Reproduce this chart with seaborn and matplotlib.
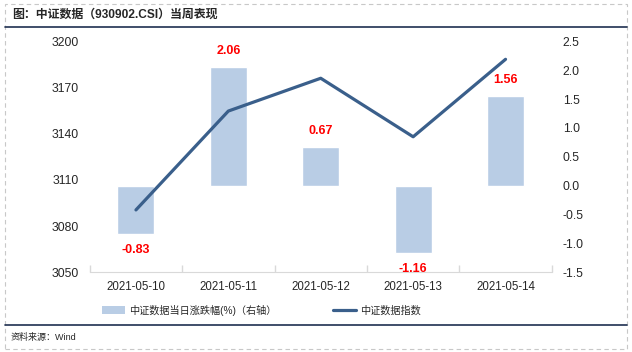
import numpy as np
import pandas as pd
import seaborn as sns
import matplotlib.pyplot as plt
from matplotlib.lines import Line2D
from matplotlib.patches import Rectangle, Patch

# data
dates = ["2021-05-10", "2021-05-11", "2021-05-12", "2021-05-13", "2021-05-14"]
pct_change = [-0.83, 2.06, 0.67, -1.16, 1.56]
index_close = [3090.5, 3154.7, 3176.0, 3138.0, 3188.3]

bar_name = "中证数据当日涨跌幅(%)（右轴）"
line_name = "中证数据指数"
title = "图：中证数据（930902.CSI）当周表现"
source = "资料来源：Wind"

df = pd.DataFrame({"date": dates, "pct": pct_change, "close": index_close})

sns.set_style("white")
plt.rcParams["font.family"] = ["Liberation Sans", "Noto Sans CJK SC"]

bar_color = "#B9CDE5"
line_color = "#3A5F8B"

fig = plt.figure(figsize=(6.32, 3.52), dpi=100)
ax = fig.add_axes([0.142, 0.2264, 0.731, 0.6563])

# bars on the right-hand scale
sns.barplot(data=df, x="date", y="pct", color=bar_color, width=0.4,
            saturation=1, ax=ax)
ax.set_ylim(-1.5, 2.5)
yt = np.arange(-1.5, 2.51, 0.5)
ax.set_yticks(yt)
ax.set_yticklabels([f"{v:.1f}" for v in yt])
ax.set_xlim(-0.5, 4.5)
ax.set_xlabel("")
ax.set_ylabel("")

for i, v in enumerate(pct_change):
    off = 11.5 if v > 0 else -11.5
    ax.annotate(f"{v:.2f}", (i, v), xytext=(0, off), textcoords="offset points",
                ha="center", va="center", color="#FF0000", fontsize=9,
                fontweight="bold")

# line on the left-hand scale
ax2 = ax.twinx()
sns.lineplot(data=df, x="date", y="close", color=line_color, linewidth=2.3,
             sort=False, ax=ax2)
ax2.set_ylim(3050, 3200)
ax2.set_yticks(range(3050, 3201, 30))
ax2.set_xlim(-0.5, 4.5)
ax2.set_ylabel("")
ax2.set_xlabel("")

# swap sides: bars' scale on the right, line's scale on the left
ax.yaxis.tick_right()
ax2.yaxis.tick_left()

for a in (ax, ax2):
    for s in ["top", "left", "right"]:
        a.spines[s].set_visible(False)
    a.tick_params(axis="y", length=0, labelsize=8.8, pad=8)

ax2.spines["bottom"].set_visible(False)
ax.spines["bottom"].set_color("#D9D9D9")
ax.set_xticks(range(len(dates)))
ax.set_xticklabels(dates)
ax.set_xticks(np.arange(-0.5, 4.6, 1), minor=True)
ax.tick_params(axis="x", which="major", length=0, labelsize=8.3, pad=6)
ax.tick_params(axis="x", which="minor", direction="in", length=5,
               color="#D9D9D9", width=1)
ax.xaxis.set_ticks_position("bottom")

# legend
handles = [Patch(facecolor=bar_color, edgecolor="none"),
           Line2D([0], [0], color=line_color, lw=2.3)]
fig.legend(handles, [bar_name, line_name], loc="center left",
           bbox_to_anchor=(102 / 632, 1 - 310 / 352), ncol=2, frameon=False,
           fontsize=7.3, handlelength=2.3, handleheight=0.8, handletextpad=0.4,
           columnspacing=5.5, borderpad=0, borderaxespad=0)

# title, source and frame
fig.text(12 / 632, 1 - 15 / 352, title, fontsize=8.6, fontweight="bold",
         va="center", ha="left")
fig.text(11 / 632, 1 - 337 / 352, source, fontsize=6.5, va="center", ha="left")
fig.add_artist(Line2D([5 / 632, 627 / 632], [1 - 27 / 352] * 2,
                      color="#1F3050", lw=1.2))
fig.add_artist(Line2D([5 / 632, 627 / 632], [1 - 325 / 352] * 2,
                      color="#1F3050", lw=1.2))
fig.add_artist(Rectangle((5 / 632, 1 - 349 / 352), 622 / 632, 345 / 352,
                         fill=False, edgecolor="#C8C8C8", lw=0.8,
                         linestyle=(0, (4, 3)), transform=fig.transFigure))

fig.savefig("out.png", dpi=100)
